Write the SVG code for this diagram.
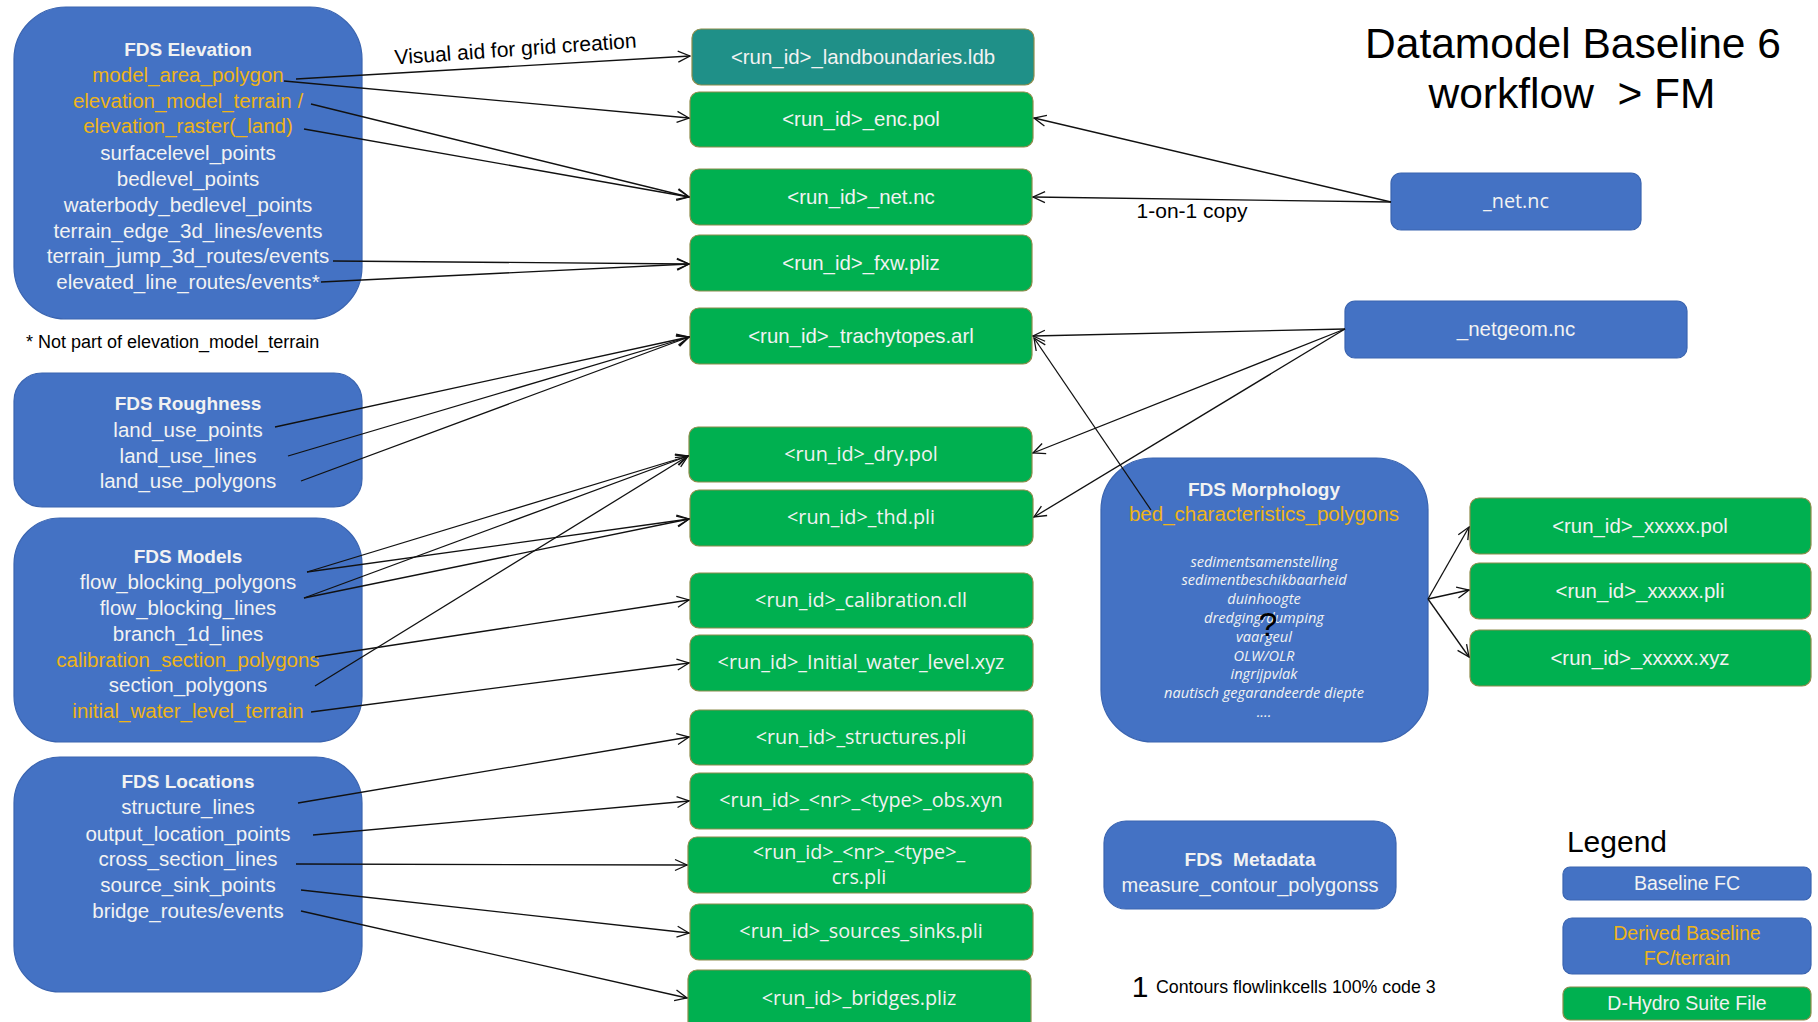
<svg xmlns="http://www.w3.org/2000/svg" width="1818" height="1022" viewBox="0 0 1818 1022">
<style>
.bl{fill:#4472C4;stroke:#3A64B0;stroke-width:1.2}
.gr{fill:#00B050;stroke:#8C8C4A;stroke-width:1.2}
.tl{fill:#1F9088;stroke:#8C8C4A;stroke-width:1.2}
text{font-family:"Liberation Sans",Arial,sans-serif;text-anchor:middle}
.t{font-size:20.5px;fill:#F2F2F2}
.o{font-size:20.5px;fill:#EEB418}
.g{font-size:20.4px;fill:#F2F2F2}
.h{font-size:19px;fill:#F2F2F2;font-weight:bold}
.s{font-family:"Open Sans","Liberation Sans",sans-serif;font-size:19.8px;fill:#F2F2F2}
.i{font-family:"Open Sans","Liberation Sans",sans-serif;font-size:14.6px;fill:#F2F2F2;font-style:italic}
.lg{font-size:19.5px;fill:#F2F2F2}
.k{fill:#000}
.c line{stroke:#111;stroke-width:1.3;marker-end:url(#arr)}
</style>
<defs>
<marker id="arr" viewBox="0 0 14 14" refX="13" refY="7" markerWidth="14" markerHeight="14" markerUnits="userSpaceOnUse" orient="auto">
<path d="M1,1.5 L13,7 L1,12.5" fill="none" stroke="#111" stroke-width="1.3"/>
</marker>
</defs>
<rect width="1818" height="1022" fill="#fff"/>

<g id="title">
<text class="k" x="1573" y="58" style="font-size:42.5px">Datamodel Baseline 6</text>
<text class="k" x="1572" y="108" style="font-size:42.5px">workflow &#160;&gt; FM</text>
</g>

<g id="fds-elevation">
<rect class="bl" x="14" y="7" width="348" height="312" rx="52"/>
<text class="h" x="188" y="56">FDS Elevation</text>
<text class="o" x="188" y="82">model_area_polygon</text>
<text class="o" x="188" y="108">elevation_model_terrain /</text>
<text class="o" x="188" y="133">elevation_raster(_land)</text>
<text class="t" x="188" y="160">surfacelevel_points</text>
<text class="t" x="188" y="186">bedlevel_points</text>
<text class="t" x="188" y="212">waterbody_bedlevel_points</text>
<text class="t" x="188" y="238">terrain_edge_3d_lines/events</text>
<text class="t" x="188" y="263">terrain_jump_3d_routes/events</text>
<text class="t" x="188" y="289">elevated_line_routes/events*</text>
</g>
<g id="note">
<text class="k" x="26" y="348" style="font-size:18px;text-anchor:start">* Not part of elevation_model_terrain</text>
</g>

<g id="fds-roughness">
<rect class="bl" x="14" y="373" width="348" height="134" rx="28"/>
<text class="h" x="188" y="410">FDS Roughness</text>
<text class="t" x="188" y="437">land_use_points</text>
<text class="t" x="188" y="463">land_use_lines</text>
<text class="t" x="188" y="488">land_use_polygons</text>
</g>

<g id="fds-models">
<rect class="bl" x="14" y="518" width="348" height="224" rx="46"/>
<text class="h" x="188" y="563">FDS Models</text>
<text class="t" x="188" y="589">flow_blocking_polygons</text>
<text class="t" x="188" y="615">flow_blocking_lines</text>
<text class="t" x="188" y="641">branch_1d_lines</text>
<text class="o" x="188" y="667">calibration_section_polygons</text>
<text class="t" x="188" y="692">section_polygons</text>
<text class="o" x="188" y="718">initial_water_level_terrain</text>
</g>

<g id="fds-locations">
<rect class="bl" x="14" y="757" width="348" height="235" rx="46"/>
<text class="h" x="188" y="788">FDS Locations</text>
<text class="t" x="188" y="814">structure_lines</text>
<text class="t" x="188" y="841">output_location_points</text>
<text class="t" x="188" y="866">cross_section_lines</text>
<text class="t" x="188" y="892">source_sink_points</text>
<text class="t" x="188" y="918">bridge_routes/events</text>
</g>

<g id="f-landboundaries"><rect class="tl" x="692" y="29" width="342" height="56" rx="9"/><text class="g" x="863" y="64">&lt;run_id&gt;_landboundaries.ldb</text></g>
<g id="f-enc"><rect class="gr" x="690" y="92" width="343" height="55" rx="9"/><text class="g" x="861" y="126">&lt;run_id&gt;_enc.pol</text></g>
<g id="f-net"><rect class="gr" x="690" y="169" width="342" height="56" rx="9"/><text class="g" x="861" y="204">&lt;run_id&gt;_net.nc</text></g>
<g id="f-fxw"><rect class="gr" x="690" y="235" width="342" height="56" rx="9"/><text class="g" x="861" y="270">&lt;run_id&gt;_fxw.pliz</text></g>
<g id="f-trachytopes"><rect class="gr" x="690" y="308" width="342" height="56" rx="9"/><text class="g" x="861" y="343">&lt;run_id&gt;_trachytopes.arl</text></g>
<g id="f-dry"><rect class="gr" x="689" y="427" width="343" height="55" rx="9"/><text class="s" x="861" y="461">&lt;run_id&gt;_dry.pol</text></g>
<g id="f-thd"><rect class="gr" x="690" y="490" width="343" height="56" rx="9"/><text class="s" x="861" y="524">&lt;run_id&gt;_thd.pli</text></g>
<g id="f-calibration"><rect class="gr" x="690" y="573" width="343" height="55" rx="9"/><text class="s" x="861" y="607">&lt;run_id&gt;_calibration.cll</text></g>
<g id="f-initial"><rect class="gr" x="690" y="635" width="343" height="56" rx="9"/><text class="s" x="861" y="669">&lt;run_id&gt;_Initial_water_level.xyz</text></g>
<g id="f-structures"><rect class="gr" x="690" y="710" width="343" height="55" rx="9"/><text class="s" x="861" y="744">&lt;run_id&gt;_structures.pli</text></g>
<g id="f-obs"><rect class="gr" x="690" y="773" width="343" height="56" rx="9"/><text class="s" x="861" y="807">&lt;run_id&gt;_&lt;nr&gt;_&lt;type&gt;_obs.xyn</text></g>
<g id="f-crs"><rect class="gr" x="688" y="837" width="343" height="56" rx="9"/><text class="s" x="859" y="859">&lt;run_id&gt;_&lt;nr&gt;_&lt;type&gt;_</text><text class="s" x="859" y="884">crs.pli</text></g>
<g id="f-sources"><rect class="gr" x="690" y="904" width="343" height="56" rx="9"/><text class="s" x="861" y="938">&lt;run_id&gt;_sources_sinks.pli</text></g>
<g id="f-bridges"><rect class="gr" x="688" y="970" width="343" height="60" rx="9"/><text class="s" x="859" y="1005">&lt;run_id&gt;_bridges.pliz</text></g>

<g id="net-nc"><rect class="bl" x="1391" y="173" width="250" height="57" rx="10"/><text class="s" x="1516" y="208">_net.nc</text></g>
<g id="netgeom-nc"><rect class="bl" x="1345" y="301" width="342" height="57" rx="10"/><text class="t" x="1516" y="336">_netgeom.nc</text></g>

<g id="fds-morphology">
<rect class="bl" x="1101" y="458" width="327" height="284" rx="52"/>
<text class="h" x="1264" y="496">FDS Morphology</text>
<text class="o" x="1264" y="521">bed_characteristics_polygons</text>
<text class="i" x="1264" y="567">sedimentsamenstelling</text>
<text class="i" x="1264" y="585">sedimentbeschikbaarheid</text>
<text class="i" x="1264" y="604">duinhoogte</text>
<text class="i" x="1264" y="623">dredging/dumping</text>
<text class="i" x="1264" y="642">vaargeul</text>
<text class="i" x="1264" y="661">OLW/OLR</text>
<text class="i" x="1264" y="679">ingrijpvlak</text>
<text class="i" x="1264" y="698">nautisch gegarandeerde diepte</text>
<text class="i" x="1264" y="717">....</text>
<text class="k" x="1268" y="636" style="font-size:34px">?</text>
</g>

<g id="f-xxxxx-pol"><rect class="gr" x="1470" y="498" width="341" height="56" rx="9"/><text class="g" x="1640" y="533">&lt;run_id&gt;_xxxxx.pol</text></g>
<g id="f-xxxxx-pli"><rect class="gr" x="1470" y="563" width="341" height="56" rx="9"/><text class="g" x="1640" y="598">&lt;run_id&gt;_xxxxx.pli</text></g>
<g id="f-xxxxx-xyz"><rect class="gr" x="1470" y="630" width="341" height="56" rx="9"/><text class="g" x="1640" y="665">&lt;run_id&gt;_xxxxx.xyz</text></g>

<g id="fds-metadata">
<rect class="bl" x="1104" y="821" width="292" height="88" rx="22"/>
<text class="h" x="1250" y="866">FDS &#160;Metadata</text>
<text class="t" x="1250" y="892" style="font-size:20px">measure_contour_polygonss</text>
</g>

<g id="footnote">
<text class="k" x="1140" y="997" style="font-size:30px">1</text>
<text class="k" x="1156" y="993" style="font-size:17.8px;text-anchor:start">Contours flowlinkcells 100% code 3</text>
</g>

<g id="legend">
<text class="k" x="1617" y="852" style="font-size:30px">Legend</text>
<rect class="bl" x="1563" y="867" width="248" height="33" rx="7"/>
<text class="lg" x="1687" y="890">Baseline FC</text>
<rect class="bl" x="1563" y="918" width="248" height="56" rx="9"/>
<text class="lg" x="1687" y="940" style="fill:#EEB418">Derived Baseline</text>
<text class="lg" x="1687" y="965" style="fill:#EEB418">FC/terrain</text>
<rect class="gr" x="1563" y="987" width="248" height="33" rx="7"/>
<text class="lg" x="1687" y="1010">D-Hydro Suite File</text>
</g>

<g id="connectors" class="c">
<line x1="296" y1="79" x2="690" y2="56"/>
<line x1="284" y1="81" x2="689" y2="118"/>
<line x1="311" y1="104" x2="689" y2="197"/>
<line x1="304" y1="129" x2="689" y2="197"/>
<line x1="333" y1="261" x2="689" y2="264"/>
<line x1="321" y1="282" x2="689" y2="264"/>
<line x1="275" y1="427" x2="689" y2="337"/>
<line x1="288" y1="456" x2="689" y2="337"/>
<line x1="301" y1="481" x2="689" y2="337"/>
<line x1="307" y1="572" x2="688" y2="456"/>
<line x1="307" y1="572" x2="689" y2="519"/>
<line x1="304" y1="598" x2="688" y2="456"/>
<line x1="304" y1="598" x2="689" y2="519"/>
<line x1="315" y1="686" x2="688" y2="456"/>
<line x1="315" y1="657" x2="689" y2="600"/>
<line x1="311" y1="712" x2="689" y2="663"/>
<line x1="298" y1="803" x2="689" y2="737"/>
<line x1="313" y1="835" x2="689" y2="801"/>
<line x1="296" y1="864" x2="687" y2="865"/>
<line x1="301" y1="890" x2="689" y2="933"/>
<line x1="301" y1="911" x2="687" y2="998"/>
<line x1="1391" y1="202" x2="1034" y2="118"/>
<line x1="1391" y1="202" x2="1033" y2="197"/>
<line x1="1345" y1="329" x2="1033" y2="336"/>
<line x1="1345" y1="329" x2="1033" y2="453"/>
<line x1="1345" y1="329" x2="1034" y2="517"/>
<line x1="1151" y1="510" x2="1034" y2="338"/>
<line x1="1428" y1="599" x2="1469" y2="527"/>
<line x1="1428" y1="599" x2="1469" y2="590"/>
<line x1="1428" y1="599" x2="1469" y2="657"/>
</g>
<g id="connector-labels">
<text class="k" x="516" y="56" style="font-size:21px" transform="rotate(-4 516 56)">Visual aid for grid creation</text>
<text class="k" x="1192" y="218" style="font-size:21px">1-on-1 copy</text>
</g>
</svg>
